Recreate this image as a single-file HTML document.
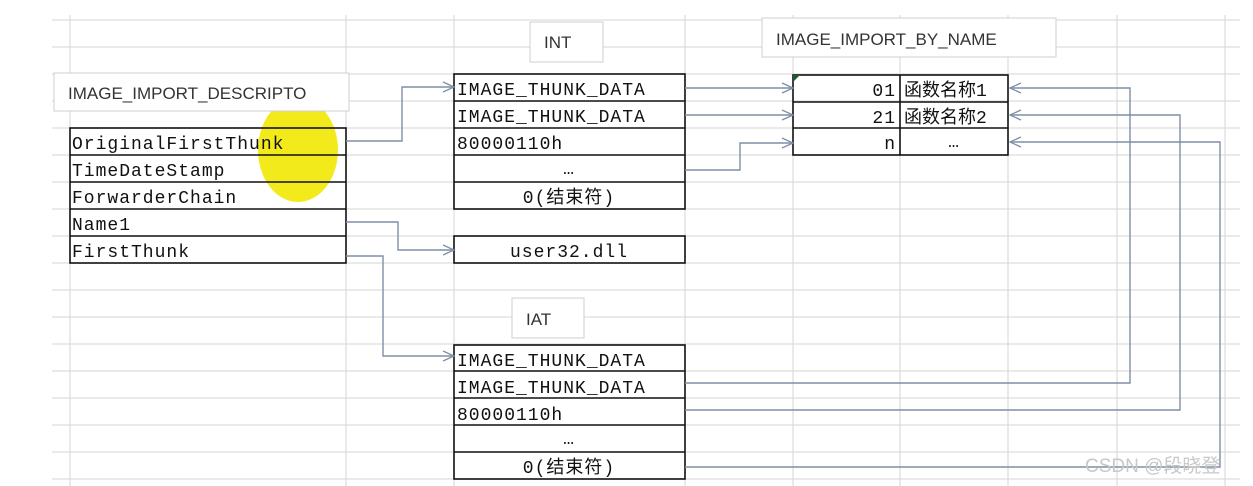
<!DOCTYPE html>
<html><head><meta charset="utf-8"><style>
html,body{margin:0;padding:0;background:#fff;width:1253px;height:486px;overflow:hidden}
svg{display:block}
.m{font-family:"Liberation Mono","Noto Sans CJK SC",monospace;font-size:18px;fill:#111}
.s{font-family:"Liberation Sans",sans-serif;font-size:17px;fill:#333}
</style></head><body>
<svg width="1253" height="486" viewBox="0 0 1253 486" xmlns="http://www.w3.org/2000/svg">
<defs><marker id="a" markerWidth="14" markerHeight="12" refX="12" refY="6" orient="auto" markerUnits="userSpaceOnUse"><path d="M1,1 L12,6 L1,11" fill="none" stroke="#7f8fa6" stroke-width="1.3"/></marker></defs>
<g stroke="#d6d6d6" stroke-width="1">
<line x1="52" y1="20" x2="1240" y2="20"/><line x1="52" y1="47" x2="1240" y2="47"/><line x1="52" y1="74" x2="1240" y2="74"/><line x1="52" y1="101" x2="1240" y2="101"/><line x1="52" y1="128" x2="1240" y2="128"/><line x1="52" y1="155" x2="1240" y2="155"/><line x1="52" y1="182" x2="1240" y2="182"/><line x1="52" y1="209" x2="1240" y2="209"/><line x1="52" y1="236" x2="1240" y2="236"/><line x1="52" y1="263" x2="1240" y2="263"/><line x1="52" y1="290" x2="1240" y2="290"/><line x1="52" y1="317" x2="1240" y2="317"/><line x1="52" y1="344" x2="1240" y2="344"/><line x1="52" y1="371" x2="1240" y2="371"/><line x1="52" y1="398" x2="1240" y2="398"/><line x1="52" y1="425" x2="1240" y2="425"/><line x1="52" y1="452" x2="1240" y2="452"/><line x1="52" y1="479" x2="1240" y2="479"/>
<line x1="70" y1="15" x2="70" y2="486"/><line x1="346" y1="15" x2="346" y2="486"/><line x1="454" y1="15" x2="454" y2="486"/><line x1="685" y1="15" x2="685" y2="486"/><line x1="793" y1="15" x2="793" y2="486"/><line x1="900" y1="15" x2="900" y2="486"/><line x1="1008" y1="15" x2="1008" y2="486"/><line x1="1117" y1="15" x2="1117" y2="486"/><line x1="1225" y1="15" x2="1225" y2="486"/>
</g>
<ellipse cx="298" cy="150" rx="40" ry="52" fill="#f2ea1a"/>
<!-- label boxes -->
<g fill="#fff" stroke="#cfcfcf">
<rect x="54" y="73" width="295" height="38"/><rect x="530" y="22" width="73" height="40"/><rect x="762" y="18" width="294" height="39"/><rect x="512" y="298" width="72" height="40"/>
</g>
<text class="s" x="68" y="99">IMAGE_IMPORT_DESCRIPTO</text>
<text class="s" x="544" y="48">INT</text>
<text class="s" x="776" y="45">IMAGE_IMPORT_BY_NAME</text>
<text class="s" x="526" y="325">IAT</text>
<!-- tables -->
<g fill="none" stroke="#111" stroke-width="1.6">
<rect x="70" y="128" width="276" height="135"/><line x1="70" y1="155" x2="346" y2="155"/><line x1="70" y1="182" x2="346" y2="182"/><line x1="70" y1="209" x2="346" y2="209"/><line x1="70" y1="236" x2="346" y2="236"/>
<rect x="454" y="74" width="231" height="135"/><line x1="454" y1="101" x2="685" y2="101"/><line x1="454" y1="128" x2="685" y2="128"/><line x1="454" y1="155" x2="685" y2="155"/><line x1="454" y1="182" x2="685" y2="182"/>
<rect x="454" y="236" width="231" height="27"/>
<rect x="454" y="345" width="231" height="134"/><line x1="454" y1="371" x2="685" y2="371"/><line x1="454" y1="398" x2="685" y2="398"/><line x1="454" y1="425" x2="685" y2="425"/><line x1="454" y1="452" x2="685" y2="452"/>
<rect x="793" y="75" width="215" height="80"/><line x1="793" y1="102" x2="1008" y2="102"/><line x1="793" y1="128" x2="1008" y2="128"/><line x1="900" y1="75" x2="900" y2="155"/>
</g>
<path d="M793,75 L800,75 L793,82Z" fill="#1f5a2e"/>
<g class="m" style="letter-spacing:1px">
<text x="72" y="149">OriginalFirstThunk</text><text x="72" y="176">TimeDateStamp</text><text x="72" y="203">ForwarderChain</text><text x="72" y="230">Name1</text><text x="72" y="257">FirstThunk</text>
<text x="457" y="95">IMAGE_THUNK_DATA</text><text x="457" y="122">IMAGE_THUNK_DATA</text><text x="457" y="149">80000110h</text><text x="569" y="174" text-anchor="middle">…</text><text x="569" y="203" text-anchor="middle">0(结束符)</text>
<text x="569" y="257" text-anchor="middle">user32.dll</text>
<text x="457" y="366">IMAGE_THUNK_DATA</text><text x="457" y="393">IMAGE_THUNK_DATA</text><text x="457" y="420">80000110h</text><text x="569" y="444" text-anchor="middle">…</text><text x="569" y="473" text-anchor="middle">0(结束符)</text>
<text x="896" y="96" text-anchor="end">01</text><text x="896" y="123" text-anchor="end">21</text><text x="896" y="149" text-anchor="end">n</text>
<text x="904" y="96" style="letter-spacing:0">函数名称1</text><text x="904" y="123" style="letter-spacing:0">函数名称2</text><text x="954" y="147" text-anchor="middle">…</text>
</g>
<!-- connectors -->
<g fill="none" stroke="#7f8fa6" stroke-width="1.4" marker-end="url(#a)">
<path d="M346,141 H402 V87 H454"/>
<path d="M346,222 H398 V250 H454"/>
<path d="M346,256 H383 V356 H454"/>
<path d="M685,88 H793"/>
<path d="M685,115 H793"/>
<path d="M685,170 H740 V143 H793"/>
<path d="M685,383 H1130 V88 H1010"/>
<path d="M685,410 H1180 V115 H1010"/>
<path d="M685,467 H1220 V142 H1010"/>
</g>
<text x="1085" y="472" style="font-family:'Liberation Sans','Noto Sans CJK SC',sans-serif;font-size:19px;fill:#c8c8c8">CSDN @段晓登</text>
</svg>
</body></html>
